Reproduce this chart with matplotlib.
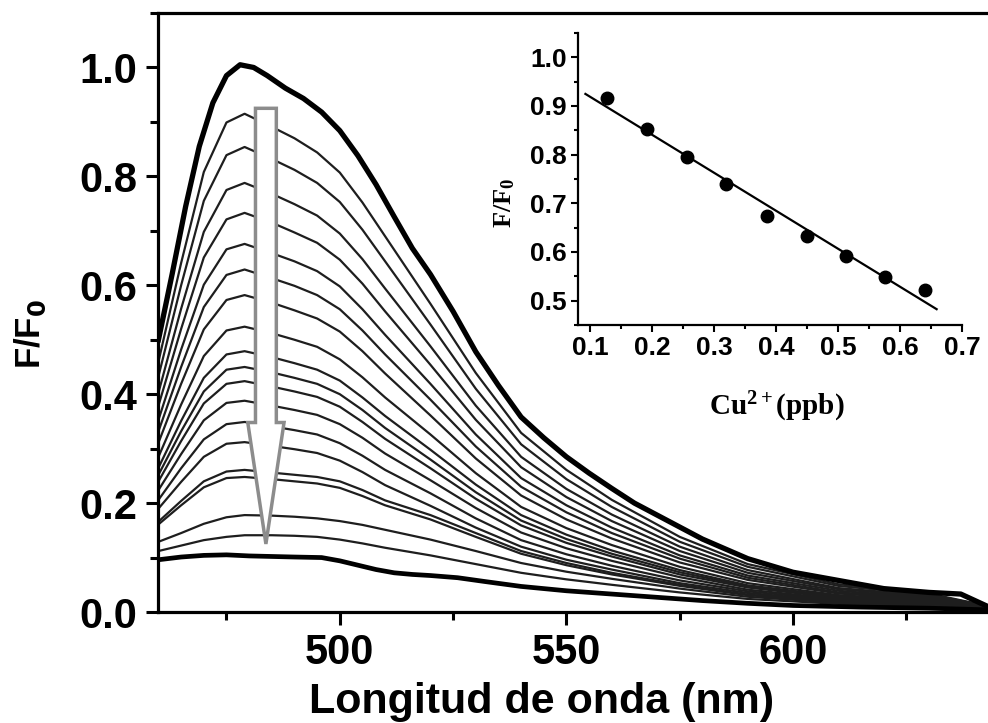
"""Fluorescence quenching of the probe by Cu2+ with a linear calibration inset."""

import matplotlib.pyplot as plt
import numpy as np
from matplotlib.patches import FancyArrow
from matplotlib.ticker import MultipleLocator

# wavelength grid (nm) shared by the thin titration spectra
wavelength = [460, 465, 470, 475, 479, 485, 490, 495, 500, 505, 510,
              520, 530, 540, 550, 560, 575, 590, 610, 630, 643]

# F/F0 spectrum without copper (thick top curve), read on its own grid
wavelength_start = [460, 463, 466, 469, 472, 475, 478, 481, 484, 488, 492, 496, 500, 504,
                    508, 512, 516, 520, 525, 530, 535, 540, 545, 550, 555, 560, 565, 570,
                    580, 590, 600, 610, 620, 630, 637, 643]
spectrum_start = [0.500, 0.620, 0.745, 0.855, 0.935, 0.985, 1.005, 1.000, 0.985, 0.962,
                  0.943, 0.918, 0.884, 0.838, 0.785, 0.726, 0.668, 0.620, 0.552, 0.478,
                  0.416, 0.358, 0.320, 0.285, 0.255, 0.227, 0.200, 0.178, 0.134, 0.098,
                  0.073, 0.058, 0.043, 0.036, 0.033, 0.010]

# F/F0 spectrum at the highest copper level (thick bottom curve)
wavelength_end = [460, 465, 470, 475, 480, 490, 496, 500, 504, 508, 512, 516, 520, 526,
                  532, 540, 550, 560, 570, 580, 590, 600, 615, 630, 643]
spectrum_end = [0.096, 0.101, 0.104, 0.105, 0.103, 0.101, 0.100, 0.094, 0.086, 0.078,
                0.072, 0.069, 0.067, 0.063, 0.056, 0.047, 0.039, 0.033, 0.027, 0.021,
                0.016, 0.012, 0.009, 0.007, 0.004]

# intermediate titration spectra (thin curves), top to bottom
spectra_mid = [
    [0.460, 0.641, 0.808, 0.899, 0.915, 0.891, 0.870, 0.844, 0.807, 0.752, 0.690, 0.566, 0.439, 0.329, 0.261, 0.206, 0.138, 0.088, 0.051, 0.034, 0.011],
    [0.433, 0.600, 0.755, 0.839, 0.854, 0.832, 0.812, 0.788, 0.753, 0.702, 0.644, 0.528, 0.410, 0.308, 0.244, 0.193, 0.129, 0.083, 0.048, 0.032, 0.011],
    [0.403, 0.557, 0.698, 0.775, 0.788, 0.768, 0.749, 0.728, 0.695, 0.648, 0.594, 0.488, 0.379, 0.285, 0.226, 0.179, 0.120, 0.077, 0.044, 0.030, 0.010],
    [0.379, 0.520, 0.651, 0.721, 0.733, 0.715, 0.697, 0.678, 0.647, 0.603, 0.552, 0.454, 0.353, 0.266, 0.211, 0.167, 0.112, 0.072, 0.042, 0.028, 0.010],
    [0.353, 0.482, 0.601, 0.666, 0.676, 0.659, 0.644, 0.626, 0.598, 0.556, 0.509, 0.419, 0.326, 0.246, 0.196, 0.155, 0.104, 0.067, 0.039, 0.026, 0.009],
    [0.332, 0.450, 0.560, 0.619, 0.629, 0.613, 0.599, 0.582, 0.556, 0.517, 0.473, 0.390, 0.304, 0.230, 0.183, 0.145, 0.098, 0.063, 0.036, 0.025, 0.009],
    [0.311, 0.419, 0.519, 0.573, 0.582, 0.568, 0.554, 0.539, 0.515, 0.479, 0.438, 0.361, 0.282, 0.214, 0.170, 0.135, 0.091, 0.059, 0.034, 0.023, 0.008],
    [0.285, 0.381, 0.470, 0.517, 0.524, 0.512, 0.500, 0.487, 0.464, 0.431, 0.394, 0.326, 0.255, 0.193, 0.154, 0.123, 0.083, 0.053, 0.031, 0.021, 0.008],
    [0.265, 0.351, 0.430, 0.473, 0.479, 0.468, 0.457, 0.445, 0.425, 0.394, 0.360, 0.298, 0.234, 0.178, 0.142, 0.113, 0.077, 0.049, 0.029, 0.020, 0.007],
    [0.252, 0.332, 0.405, 0.445, 0.450, 0.440, 0.430, 0.419, 0.400, 0.371, 0.338, 0.280, 0.220, 0.168, 0.134, 0.107, 0.073, 0.047, 0.027, 0.019, 0.007],
    [0.240, 0.314, 0.383, 0.419, 0.424, 0.414, 0.405, 0.395, 0.377, 0.349, 0.318, 0.264, 0.208, 0.159, 0.127, 0.102, 0.069, 0.045, 0.026, 0.018, 0.007],
    [0.224, 0.290, 0.352, 0.384, 0.388, 0.379, 0.371, 0.362, 0.345, 0.320, 0.291, 0.242, 0.191, 0.146, 0.117, 0.094, 0.064, 0.041, 0.024, 0.017, 0.007],
    [0.206, 0.264, 0.317, 0.345, 0.349, 0.341, 0.334, 0.326, 0.310, 0.287, 0.261, 0.218, 0.172, 0.132, 0.106, 0.085, 0.058, 0.038, 0.022, 0.015, 0.006],
    [0.190, 0.239, 0.285, 0.309, 0.312, 0.305, 0.299, 0.292, 0.278, 0.257, 0.233, 0.195, 0.155, 0.120, 0.096, 0.078, 0.053, 0.035, 0.020, 0.014, 0.006],
    [0.166, 0.204, 0.240, 0.258, 0.261, 0.256, 0.252, 0.248, 0.240, 0.224, 0.205, 0.178, 0.145, 0.112, 0.090, 0.072, 0.050, 0.032, 0.019, 0.012, 0.005],
    [0.161, 0.196, 0.229, 0.246, 0.248, 0.244, 0.240, 0.236, 0.228, 0.213, 0.196, 0.170, 0.138, 0.107, 0.086, 0.069, 0.048, 0.031, 0.018, 0.012, 0.005],
    [0.129, 0.145, 0.162, 0.174, 0.178, 0.177, 0.175, 0.172, 0.167, 0.160, 0.151, 0.133, 0.112, 0.090, 0.074, 0.061, 0.043, 0.028, 0.017, 0.011, 0.005],
    [0.112, 0.122, 0.132, 0.138, 0.141, 0.141, 0.140, 0.138, 0.133, 0.126, 0.118, 0.104, 0.088, 0.072, 0.060, 0.050, 0.036, 0.024, 0.015, 0.010, 0.005],
]

# inset: calibration points
cu_ppb = [0.127, 0.191, 0.256, 0.319, 0.385, 0.449, 0.512, 0.576, 0.641]
f_ratio = [0.916, 0.853, 0.795, 0.740, 0.674, 0.633, 0.592, 0.549, 0.521]
fit_range = [0.092, 0.659]

plt.rcParams["font.family"] = "Liberation Sans"
plt.rcParams["font.weight"] = "bold"
plt.rcParams["mathtext.fontset"] = "custom"
plt.rcParams["mathtext.rm"] = "Liberation Serif:bold"
plt.rcParams["mathtext.it"] = "Liberation Serif:bold"
plt.rcParams["mathtext.bf"] = "Liberation Serif:bold"

fig = plt.figure(figsize=(9.88, 7.23), dpi=100)
ax = fig.add_axes([0.1604, 0.1535, 0.8396, 0.8285])

for curve in spectra_mid:
    ax.plot(wavelength, curve, color="#1e1e1e", lw=1.6, zorder=2,
            solid_joinstyle="round")
ax.plot(wavelength_end, spectrum_end, color="black", lw=3.4, zorder=3)
ax.plot(wavelength_start, spectrum_start, color="black", lw=3.8, zorder=3,
        solid_joinstyle="round")

# hollow grey arrow marking the quenching direction
arrow = FancyArrow(483.7, 0.925, 0, -0.80, width=4.6, head_width=8.0,
                   head_length=0.223, length_includes_head=True,
                   facecolor="white", edgecolor="#8c8c8c", lw=2.5, zorder=5)
ax.add_patch(arrow)

ax.set_xlim(460, 643)
ax.set_ylim(0, 1.1)
ax.xaxis.set_major_locator(MultipleLocator(50))
ax.xaxis.set_minor_locator(MultipleLocator(25))
ax.yaxis.set_major_locator(MultipleLocator(0.2))
ax.yaxis.set_minor_locator(MultipleLocator(0.1))
ax.yaxis.set_major_formatter(plt.FormatStrFormatter("%.1f"))
ax.tick_params(which="major", length=9, width=2.2, labelsize=30, pad=6)
ax.tick_params(which="minor", length=6, width=2.2)
for side in ("left", "bottom", "top"):
    ax.spines[side].set_linewidth(2.3)
ax.spines["right"].set_visible(False)

ax.set_xlabel("Longitud de onda (nm)", fontsize=31, fontweight="bold", va="baseline")
ax.xaxis.set_label_coords(0.462, -0.1686)
ax.set_ylabel(r"F/F$_\mathbf{0}$", fontsize=25, fontweight="bold", va="center",
              math_fontfamily="dejavusans")
ax.yaxis.set_label_coords(-0.155, 0.464)

# inset calibration plot
inset = fig.add_axes([0.585, 0.5505, 0.3887, 0.4039], facecolor="none")
slope, intercept = np.polyfit(cu_ppb, f_ratio, 1)
fit_x = np.array(fit_range)
inset.plot(fit_x, slope * fit_x + intercept, color="black", lw=1.6)
inset.plot(cu_ppb, f_ratio, "o", color="black", ms=9)
inset.set_xlim(0.08, 0.7)
inset.set_ylim(0.45, 1.05)
inset.xaxis.set_major_locator(MultipleLocator(0.1))
inset.xaxis.set_minor_locator(MultipleLocator(0.05))
inset.yaxis.set_major_locator(MultipleLocator(0.1))
inset.yaxis.set_minor_locator(MultipleLocator(0.05))
inset.xaxis.set_major_formatter(plt.FormatStrFormatter("%.1f"))
inset.yaxis.set_major_formatter(plt.FormatStrFormatter("%.1f"))
inset.tick_params(which="major", length=5, width=1.5, labelsize=19, pad=3)
inset.tick_params(which="minor", length=3, width=1.5)
for side in ("left", "bottom"):
    inset.spines[side].set_linewidth(1.6)
inset.spines["top"].set_visible(False)
inset.spines["right"].set_visible(False)

inset.set_xlabel(r"Cu$^{2+}$(ppb)", fontsize=21, family="Liberation Serif",
                 fontweight="bold", va="baseline")
inset.xaxis.set_label_coords(0.518, -0.308)
inset.set_ylabel(r"F/F$_0$", fontsize=19, family="Liberation Serif",
                 fontweight="bold", va="center")
inset.yaxis.set_label_coords(-0.19, 0.418)

fig.savefig("out.png", dpi=100)
plt.close(fig)
